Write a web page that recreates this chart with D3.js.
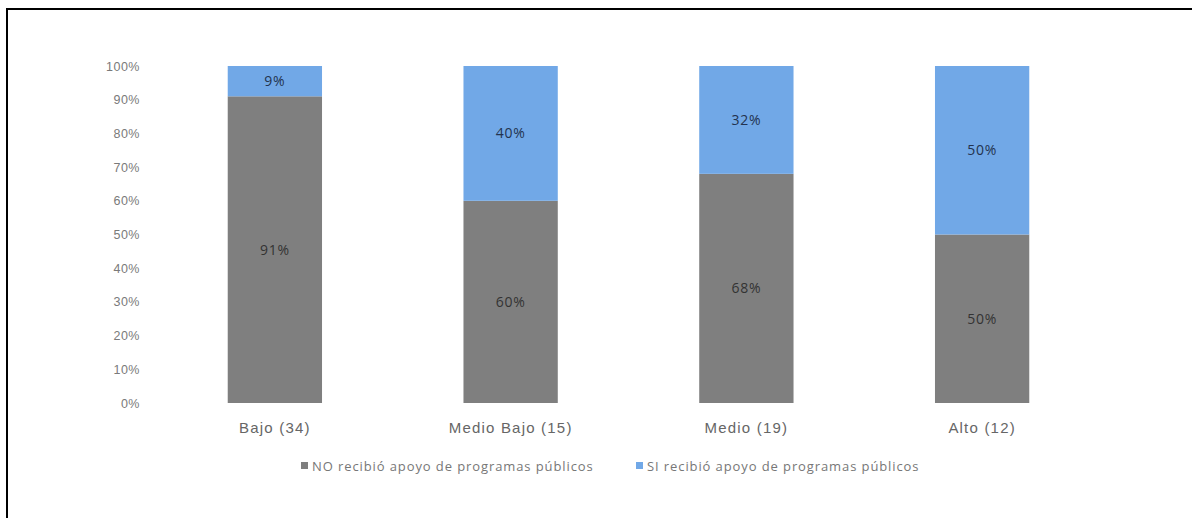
<!DOCTYPE html>
<html>
<head>
<meta charset="utf-8">
<script src="https://cdn.jsdelivr.net/npm/d3@7"></script>
<style>
  body { margin: 0; background: #fff; }
  svg { font-family: "Open Sans", sans-serif; }
</style>
</head>
<body>
<div id="chart"></div>
<script>
// categories and series (share of each group)
const categories = ["Bajo (34)", "Medio Bajo (15)", "Medio (19)", "Alto (12)"];
const noRecibio = [0.91, 0.60, 0.68, 0.50];
const siRecibio = [0.09, 0.40, 0.32, 0.50];
const noLabels = ["91%", "60%", "68%", "50%"];
const siLabels = ["9%", "40%", "32%", "50%"];
const yTicks = [0, 0.1, 0.2, 0.3, 0.4, 0.5, 0.6, 0.7, 0.8, 0.9, 1];
const seriesNames = ["NO recibió apoyo de programas públicos", "SI recibió apoyo de programas públicos"];

const width = 1192, height = 518;
const colors = ["#7f7f7f", "#71a8e7"];

const svg = d3.select("#chart").append("svg")
    .attr("width", width)
    .attr("height", height);

// frame (only top and left edges show in the picture)
svg.append("path")
    .attr("d", `M7,${height} L7,9 L${width},9`)
    .attr("fill", "none")
    .attr("stroke", "#000")
    .attr("stroke-width", 2);

const x = d3.scaleBand()
    .domain(categories)
    .range([157, 1100])
    .paddingInner(0.6)
    .paddingOuter(0.3);

const y = d3.scaleLinear()
    .domain([0, 1])
    .range([403, 66]);

// y axis, labels only
const yAxis = svg.append("g")
    .attr("transform", "translate(140,0)")
    .call(d3.axisLeft(y).tickValues(yTicks).tickFormat(d3.format(".0%")).tickSize(0).tickPadding(0));
yAxis.select(".domain").remove();
yAxis.selectAll("text")
    .attr("fill", "#7a7a7a")
    .style("font-size", "12.5px")
    .style("letter-spacing", "0.5px");

// stacked bars
const rows = categories.map((c, i) => ({ cat: c, no: noRecibio[i], si: siRecibio[i], noL: noLabels[i], siL: siLabels[i] }));

const g = svg.append("g");

g.selectAll("rect.no")
    .data(rows)
    .enter().append("rect")
    .attr("class", "no")
    .attr("x", d => x(d.cat))
    .attr("width", x.bandwidth())
    .attr("y", d => y(d.no))
    .attr("height", d => y(0) - y(d.no))
    .attr("fill", colors[0]);

g.selectAll("rect.si")
    .data(rows)
    .enter().append("rect")
    .attr("class", "si")
    .attr("x", d => x(d.cat))
    .attr("width", x.bandwidth())
    .attr("y", d => y(d.no + d.si))
    .attr("height", d => y(d.no) - y(d.no + d.si))
    .attr("fill", colors[1]);

// data labels
g.selectAll("text.no")
    .data(rows)
    .enter().append("text")
    .attr("class", "no")
    .attr("x", d => x(d.cat) + x.bandwidth() / 2)
    .attr("y", d => y(d.no / 2))
    .attr("dy", "0.35em")
    .attr("text-anchor", "middle")
    .attr("fill", "#333")
    .style("font-size", "14px")
    .style("letter-spacing", "0.8px")
    .text(d => d.noL);

g.selectAll("text.si")
    .data(rows)
    .enter().append("text")
    .attr("class", "si")
    .attr("x", d => x(d.cat) + x.bandwidth() / 2)
    .attr("y", d => y(d.no + d.si / 2))
    .attr("dy", "0.35em")
    .attr("text-anchor", "middle")
    .attr("fill", "#23334f")
    .style("font-size", "14px")
    .style("letter-spacing", "0.8px")
    .text(d => d.siL);

// category labels
const xAxis = svg.append("g")
    .attr("transform", "translate(0,403)")
    .call(d3.axisBottom(x).tickSize(0).tickPadding(19));
xAxis.select(".domain").remove();
xAxis.selectAll("text")
    .attr("fill", "#666")
    .style("font-size", "15px")
    .style("letter-spacing", "1.2px");

// legend
const legendX = [301, 636];
const legend = svg.append("g");
seriesNames.forEach((name, i) => {
    legend.append("rect")
        .attr("x", legendX[i])
        .attr("y", 462)
        .attr("width", 7)
        .attr("height", 7)
        .attr("fill", colors[i]);
    legend.append("text")
        .attr("x", legendX[i] + 11)
        .attr("y", 466)
        .attr("dy", "0.35em")
        .attr("fill", "#777")
        .style("font-size", "13px")
        .style("letter-spacing", "0.9px")
        .text(name);
});
</script>
</body>
</html>
